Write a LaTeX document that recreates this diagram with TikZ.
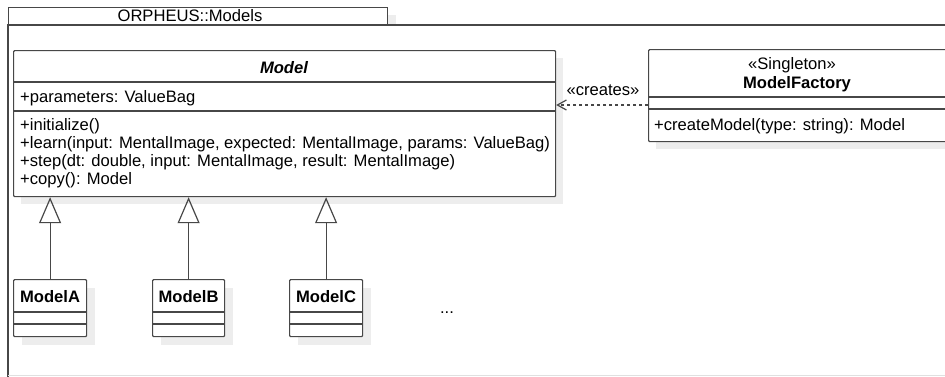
\documentclass[tikz,border=0pt]{standalone}
\usepackage{fontspec}
\setmainfont{Liberation Sans}
\usetikzlibrary{arrows.meta}
\begin{document}
\begin{tikzpicture}[x=1pt,y=-1pt,
  ln/.style={draw=black!72, line width=1.2pt},
  cbox/.style={ln, fill=white, rectangle, inner sep=0pt, anchor=north west, rounded corners=1pt},
  shad/.style={fill=black!7},
  t/.style={font=\fontsize{16.6}{19}\selectfont, inner sep=0pt},
  tl/.style={t, anchor=base west},
  tc/.style={t, anchor=base},
  bt/.style={tc, font=\fontsize{16.6}{19}\selectfont\bfseries},
  inherit/.style={ln, -{Triangle[open, length=26pt, width=22pt]}},
  dep/.style={ln, dash pattern=on 3pt off 3pt, -{Straight Barb[length=9pt, width=10pt]}},
]
\clip (0,0) rectangle (945,376);
% package frame
\fill[shad] (16,15) rectangle (396,25);
\node[cbox, rounded corners=0pt, minimum width=379pt, minimum height=18pt] (tab) at (8,7) {};
\node[tc] (pkgname) at (190,21) {ORPHEUS::Models};
\draw[ln] (8,400) -- (8,25) -- (960,25);
\draw[black!12, line width=1pt] (8,375.5) -- (945,375.5);
% Model
\fill[shad] (21,58) rectangle (563,204);
\node[cbox, minimum width=542pt, minimum height=146pt] (model) at (13,50) {};
\draw[ln] (13,82) -- (555,82);
\draw[ln] (13,111) -- (555,111);
\node[tc, font=\fontsize{16.6}{19}\selectfont\bfseries\itshape] (modelname) at (284,73) {Model};
\node[tl] (attr) at (20,102) {+parameters: ValueBag};
\node[tl] (op1) at (20,130.5) {+initialize()};
\node[tl] (op2) at (20,148.5) {+learn(input: MentalImage, expected: MentalImage, params: ValueBag)};
\node[tl] (op3) at (20,166.5) {+step(dt: double, input: MentalImage, result: MentalImage)};
\node[tl] (op4) at (20,184.5) {+copy(): Model};
% ModelFactory
\fill[shad] (656,57) rectangle (970,149);
\node[cbox, minimum width=320pt, minimum height=92pt] (factory) at (648,49) {};
\draw[ln] (648,97) -- (960,97);
\draw[ln] (648,109) -- (960,109);
\node[tc] (stereo) at (792,69.5) {«Singleton»};
\node[bt] (factname) at (797,88.3) {ModelFactory};
\node[tl] (fop) at (654,130.7) {+createModel(type: string): Model};
% dependency
\coordinate (depstart) at (factory.west |- 0,105);
\coordinate (depend) at (model.east |- 0,105);
\draw[dep] (depstart) -- (depend);
\node[tc] (creates) at (603,95) {«creates»};
% subclasses
\fill[shad] (22,288) rectangle (95,345);
\node[cbox, minimum width=73pt, minimum height=57pt] (ma) at (13,279) {};
\fill[shad] (161,288) rectangle (233,345);
\node[cbox, minimum width=72pt, minimum height=57pt] (mb) at (152,279) {};
\fill[shad] (298,288) rectangle (371,345);
\node[cbox, minimum width=73pt, minimum height=57pt] (mc) at (289,279) {};
\foreach \a/\b in {13/86,152/224,289/362}{
  \draw[ln] (\a,312) -- (\b,312);
  \draw[ln] (\a,324) -- (\b,324);
}
\node[bt] (na) at (ma.center |- 0,302.7) {ModelA};
\node[bt] (nb) at (mb.center |- 0,302.7) {ModelB};
\node[bt] (nc) at (mc.center |- 0,302.7) {ModelC};
\node[tc] (dots) at (447,313) {...};
% inheritance
\draw[inherit] (ma) -- (ma |- model.south);
\draw[inherit] (mb) -- (mb |- model.south);
\draw[inherit] (mc) -- (mc |- model.south);
\end{tikzpicture}
\end{document}
